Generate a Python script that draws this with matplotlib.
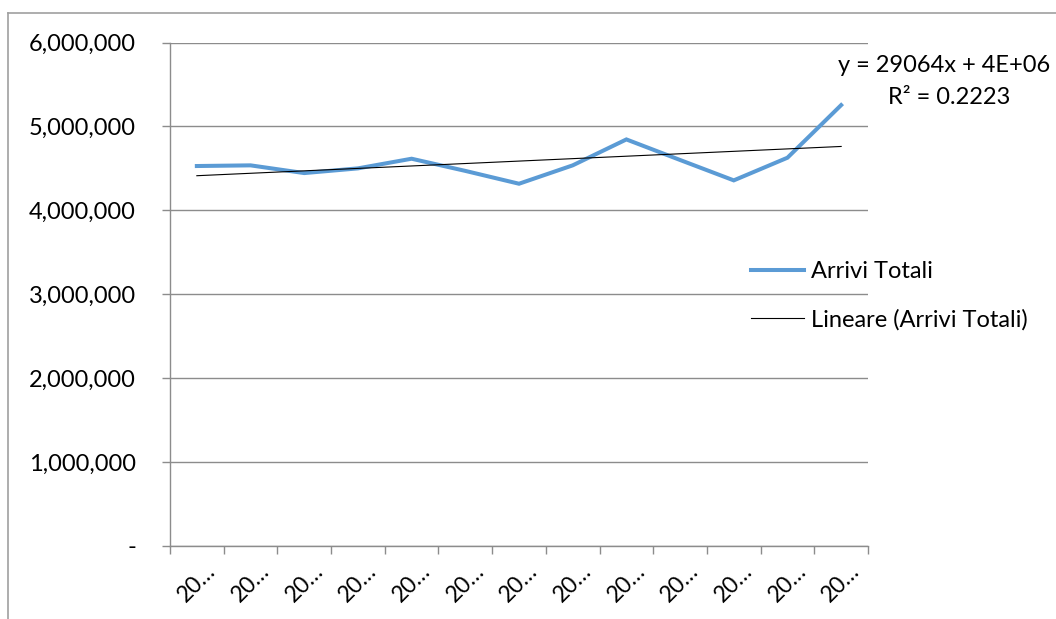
import numpy as np
import matplotlib
matplotlib.use("Agg")
import matplotlib.pyplot as plt
from matplotlib.lines import Line2D
from matplotlib.ticker import FuncFormatter

# Annual total arrivals
categories = ["20…"] * 13
arrivi_totali = [4528000, 4536000, 4444000, 4500000, 4615000, 4470000, 4317000,
                 4536000, 4845000, 4600000, 4357000, 4627000, 5254000]
y_ticks = [0, 1000000, 2000000, 3000000, 4000000, 5000000, 6000000]
series_label = "Arrivi Totali"
trend_label = "Lineare (Arrivi Totali)"
equation_text = "y = 29064x + 4E+06"
r2_text = "R² = 0.2223"

plt.rcParams["font.family"] = ["Lato", "DejaVu Sans"]

fig = plt.figure(figsize=(10.56, 6.19), dpi=100)
ax = fig.add_axes([170 / 1056, 1 - 546 / 619, 698 / 1056, (546 - 42.5) / 619])

n = len(arrivi_totali)
x = np.arange(1, n + 1)
blue = "#5B9BD5"
grid_c = "#8C8C8C"

ax.plot(x, arrivi_totali, color=blue, lw=2.9, solid_joinstyle="miter", zorder=3)

# Linear trend (least squares over the category index)
slope, intercept = np.polyfit(x, arrivi_totali, 1)
ax.plot(x, slope * x + intercept, color="black", lw=0.8, zorder=4)

ax.set_xlim(0.5, n + 0.5)
ax.set_ylim(0, 6000000)
ax.set_yticks(y_ticks)
ax.yaxis.set_major_formatter(FuncFormatter(lambda v, p: "-" if v == 0 else f"{int(v):,}"))
ax.set_xticks(np.arange(0.5, n + 1.0, 1.0))
ax.set_xticklabels([])
ax.set_xticks(x, minor=True)
ax.set_xticklabels(categories, minor=True, rotation=45, ha="center", va="top", fontsize=16.5)
ax.tick_params(axis="x", which="minor", length=0, pad=10)
ax.tick_params(axis="x", which="major", length=6, color=grid_c, width=1)
ax.tick_params(axis="y", length=6, color=grid_c, width=1, labelsize=17, pad=18.5)

ax.grid(axis="y", color=grid_c, lw=1)
ax.set_axisbelow(True)
for s in ["top", "right"]:
    ax.spines[s].set_visible(False)
for s in ["left", "bottom"]:
    ax.spines[s].set_color(grid_c)
    ax.spines[s].set_linewidth(1)

handles = [Line2D([], [], color=blue, lw=2.9), Line2D([], [], color="black", lw=0.8)]
fig.legend(handles, [series_label, trend_label], loc="center left",
           bbox_to_anchor=(730 / 1056, 1 - 296 / 619), frameon=False,
           fontsize=17, handlelength=2.25, handletextpad=0.3, labelspacing=1.13)

fig.text(1050 / 1056, 1 - 66 / 619, equation_text, ha="right", va="center", fontsize=17)
fig.text(949 / 1056, 1 - 98 / 619, r2_text, ha="center", va="center", fontsize=17)

# Chart frame edges
fig.add_artist(Line2D([7.5 / 1056, 7.5 / 1056], [0, 1 - 13 / 619], color="#A0A0A0", lw=1.2,
                      transform=fig.transFigure))
fig.add_artist(Line2D([7.5 / 1056, 1], [1 - 13 / 619, 1 - 13 / 619], color="#A0A0A0", lw=1.2,
                      transform=fig.transFigure))

fig.savefig("out.png", dpi=100, facecolor="white")
